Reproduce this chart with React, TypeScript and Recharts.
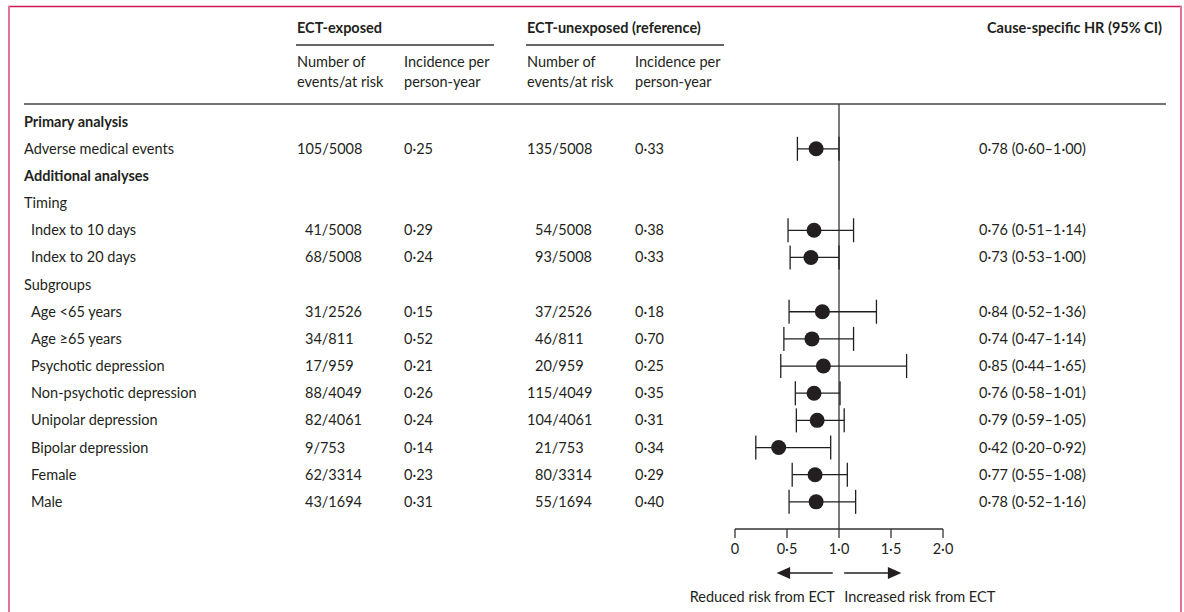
import { ErrorBar, ReferenceLine, Scatter, ScatterChart, XAxis, YAxis, Label } from 'recharts'

const rowLabels = [
  'Primary analysis',
  'Adverse medical events',
  'Additional analyses',
  'Timing',
  'Index to 10 days',
  'Index to 20 days',
  'Subgroups',
  'Age <65 years',
  'Age ≥65 years',
  'Psychotic depression',
  'Non-psychotic depression',
  'Unipolar depression',
  'Bipolar depression',
  'Female',
  'Male',
]
const boldRows = [0, 2]
const indentRows = [4, 5, 7, 8, 9, 10, 11, 12, 13, 14]

// rows that carry an estimate
const estimateRows = [1, 4, 5, 7, 8, 9, 10, 11, 12, 13, 14]
const exposedCounts = ['105/5008', '41/5008', '68/5008', '31/2526', '34/811', '17/959', '88/4049', '82/4061', '9/753', '62/3314', '43/1694']
const exposedIncidence = ['0·25', '0·29', '0·24', '0·15', '0·52', '0·21', '0·26', '0·24', '0·14', '0·23', '0·31']
const unexposedCounts = ['135/5008', '54/5008', '93/5008', '37/2526', '46/811', '20/959', '115/4049', '104/4061', '21/753', '80/3314', '55/1694']
const unexposedIncidence = ['0·33', '0·38', '0·33', '0·18', '0·70', '0·25', '0·35', '0·31', '0·34', '0·29', '0·40']
const hr = [0.78, 0.76, 0.73, 0.84, 0.74, 0.85, 0.76, 0.79, 0.42, 0.77, 0.78]
const ciLow = [0.6, 0.51, 0.53, 0.52, 0.47, 0.44, 0.58, 0.59, 0.2, 0.55, 0.52]
const ciHigh = [1.0, 1.14, 1.0, 1.36, 1.14, 1.65, 1.01, 1.05, 0.92, 1.08, 1.16]

const xTicks = [0, 0.5, 1, 1.5, 2]

const ink = '#231f20'
const font = 'Lato, "Open Sans", sans-serif'
const fs = 14.5

const dot = (n: number) => n.toFixed(2).replace('.', '·')
const tickFmt = (v: number) => (v === 0 ? '0' : v.toFixed(1).replace('.', '·'))

const data = estimateRows.map((row, i) => ({
  row,
  hr: hr[i],
  err: [hr[i] - ciLow[i], ciHigh[i] - hr[i]],
}))

function RowTick(props: any) {
  const row = props.payload.value as number
  const y = props.y + 5
  const i = estimateRows.indexOf(row)
  const labelX = indentRows.includes(row) ? 31 : 24
  const countX = (s: string, base: number) => base - (s.split('/')[0].length > 2 ? 8 : 0)
  return (
    <g fontFamily={font} fontSize={fs} fill={ink}>
      <text x={labelX} y={y} fontWeight={boldRows.includes(row) ? 700 : 400}>
        {rowLabels[row]}
      </text>
      {i >= 0 && (
        <>
          <text x={countX(exposedCounts[i], 305)} y={y}>{exposedCounts[i]}</text>
          <text x={404} y={y}>{exposedIncidence[i]}</text>
          <text x={countX(unexposedCounts[i], 535)} y={y}>{unexposedCounts[i]}</text>
          <text x={635} y={y}>{unexposedIncidence[i]}</text>
          <text x={979} y={y}>
            {`${dot(hr[i])} (${dot(ciLow[i])}–${dot(ciHigh[i])})`}
          </text>
        </>
      )}
    </g>
  )
}

function RiskArrows(props: any) {
  const { x, y, width } = props.viewBox
  const sx = (v: number) => x + (v * width) / 2
  const ay = y + 44
  return (
    <g fill={ink} stroke={ink} fontFamily={font} fontSize={fs}>
      <line x1={sx(0.94)} x2={sx(0.47)} y1={ay} y2={ay} strokeWidth={1.5} />
      <polygon points={`${sx(0.4)},${ay} ${sx(0.53)},${ay - 6} ${sx(0.53)},${ay + 6}`} stroke="none" />
      <line x1={sx(1.05)} x2={sx(1.53)} y1={ay} y2={ay} strokeWidth={1.5} />
      <polygon points={`${sx(1.6)},${ay} ${sx(1.47)},${ay - 6} ${sx(1.47)},${ay + 6}`} stroke="none" />
      <text x={sx(0.96)} y={ay + 29} textAnchor="end" stroke="none">Reduced risk from ECT</text>
      <text x={sx(1.05)} y={ay + 29} stroke="none">Increased risk from ECT</text>
    </g>
  )
}

function Header() {
  const t = { fontFamily: font, fontSize: fs, fill: ink }
  return (
    <svg width={1184} height={612} style={{ position: 'absolute', left: 0, top: 0, pointerEvents: 'none' }}>
      <line x1={8} x2={1182} y1={6.5} y2={6.5} stroke="#d31a56" strokeWidth={1.5} />
      <line x1={9} x2={9} y1={6} y2={612} stroke="#e07596" strokeWidth={2} />
      <line x1={1181} x2={1181} y1={6} y2={612} stroke="#e07596" strokeWidth={2} />
      <g {...t}>
        <text x={297} y={33} fontWeight={700}>ECT-exposed</text>
        <text x={527} y={33} fontWeight={700}>ECT-unexposed (reference)</text>
        <text x={1162} y={33} fontWeight={700} textAnchor="end">Cause-specific HR (95% CI)</text>
        <text x={297} y={67}>Number of</text>
        <text x={297} y={87}>events/at risk</text>
        <text x={404} y={67}>Incidence per</text>
        <text x={404} y={87}>person-year</text>
        <text x={527} y={67}>Number of</text>
        <text x={527} y={87}>events/at risk</text>
        <text x={635} y={67}>Incidence per</text>
        <text x={635} y={87}>person-year</text>
      </g>
      <line x1={296} x2={494} y1={45} y2={45} stroke="#333" strokeWidth={1.5} />
      <line x1={526} x2={724} y1={45} y2={45} stroke="#333" strokeWidth={1.5} />
      <line x1={24} x2={1166} y1={104} y2={104} stroke="#444" strokeWidth={1.3} />
    </svg>
  )
}

export default function App() {
  return (
    <div style={{ position: 'absolute', left: 0, top: 0, width: 1184, height: 612, background: '#fff' }}>
      <ScatterChart width={1184} height={612} margin={{ top: 104, right: 241, bottom: 53, left: 734 }}>
        <XAxis
          type="number"
          dataKey="hr"
          domain={[0, 2]}
          ticks={xTicks}
          tickFormatter={tickFmt}
          height={30}
          tickSize={9}
          axisLine={{ stroke: '#333', strokeWidth: 1.3 }}
          tickLine={{ stroke: '#333', strokeWidth: 1.3 }}
          tick={{ fill: ink, fontSize: fs, fontFamily: font, dy: 4 }}
          allowDataOverflow
        >
          <Label content={RiskArrows} />
        </XAxis>
        <YAxis
          type="number"
          dataKey="row"
          domain={[-0.65, 15]}
          reversed
          ticks={rowLabels.map((_, i) => i)}
          interval={0}
          width={1}
          axisLine={false}
          tickLine={false}
          tick={<RowTick />}
          allowDataOverflow
        />
        <ReferenceLine x={1} stroke="#333" strokeWidth={1.3} />
        <Scatter
          data={data}
          fill={ink}
          isAnimationActive={false}
          shape={(p: any) => <circle cx={p.cx} cy={p.cy} r={7.5} fill={ink} />}
        >
          <ErrorBar dataKey="err" direction="x" width={12} stroke={ink} strokeWidth={1.3} />
        </Scatter>
      </ScatterChart>
      <Header />
    </div>
  )
}
